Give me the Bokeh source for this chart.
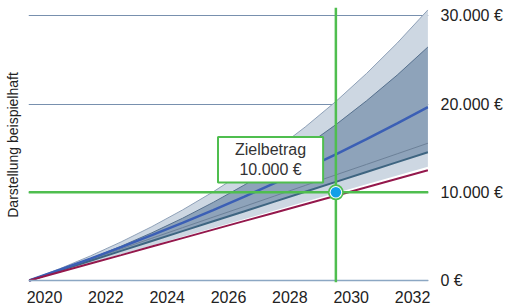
from bokeh.plotting import figure
from bokeh.models import LinearAxis, FixedTicker, Span, Label, Range1d
from bokeh.embed import file_html
from bokeh.resources import INLINE

# ---- data ----
years = [2019.5, 2020.5, 2021.5, 2022.5, 2023.5, 2024.5, 2025.5,
         2026.5, 2027.5, 2028.5, 2029.5, 2030.5, 2031.5, 2032.5]
outer_upper = [0, 1340, 2790, 4380, 6110, 8000, 10060, 12300, 14750, 17410,
               20310, 23480, 26930, 30690]
inner_upper = [0, 1190, 2490, 3890, 5410, 7060, 8860, 10800, 12910, 15200,
               17680, 20380, 23300, 26480]
median = [0, 1220, 2480, 3790, 5140, 6540, 7990, 9490, 11040, 12650,
          14310, 16030, 17810, 19660]
thin_line = [0, 1200, 2400, 3590, 4790, 5990, 7190, 8380, 9580, 10780,
             11980, 13170, 14370, 15570]
inner_lower = [0, 1120, 2240, 3360, 4480, 5600, 6720, 7830, 8950, 10070,
               11190, 12310, 13430, 14550]
outer_lower = [0, 990, 1980, 2980, 3970, 4960, 5950, 6940, 7940, 8930,
               9920, 10910, 11900, 12900]
payments = [0, 960, 1920, 2880, 3850, 4810, 5770, 6730, 7690, 8650,
            9610, 10580, 11540, 12500]

target_year = 2029.5
target_value = 10000
target_title = "Zielbetrag"
target_text = "10.000 €"

x_ticks = [2020, 2022, 2024, 2026, 2028, 2030, 2032]
y_ticks = [0, 10000, 20000, 30000]
y_tick_labels = ["0 €", "10.000 €", "20.000 €", "30.000 €"]
y_axis_title = "Darstellung beispielhaft"

FONT = "Liberation Sans"
GREEN = "#4fbe4f"

p = figure(width=505, height=306, output_backend="svg", toolbar_location=None,
           x_range=Range1d(2019.478, 2032.52), y_range=Range1d(-227, 30963),
           y_axis_location="right",
           min_border_left=28, min_border_right=77, min_border_top=7,
           min_border_bottom=24)
p.outline_line_color = None
p.background_fill_color = "white"
p.xgrid.visible = False

p.xaxis.ticker = FixedTicker(ticks=x_ticks)
p.yaxis.ticker = FixedTicker(ticks=y_ticks)
p.yaxis.major_label_overrides = {t: l for t, l in zip(y_ticks, y_tick_labels)}
for ax in (p.xaxis, p.yaxis):
    ax.axis_line_color = None
    ax.major_tick_line_color = None
    ax.minor_tick_line_color = None
    ax.major_tick_out = 0
    ax.major_tick_in = 0
    ax.major_label_text_font_size = "16px"
    ax.major_label_text_color = "#222222"
    ax.major_label_text_font = FONT
p.xaxis.major_label_standoff = 8
p.yaxis.major_label_standoff = 12

p.ygrid.grid_line_color = "#7890ae"
p.ygrid.grid_line_width = 1

left = LinearAxis(axis_label=y_axis_title, ticker=FixedTicker(ticks=[]),
                  axis_line_color=None, major_tick_line_color=None,
                  minor_tick_line_color=None, major_label_text_font_size="0px",
                  axis_label_text_font_size="14px",
                  axis_label_text_font_style="normal",
                  axis_label_text_font=FONT, axis_label_text_color="#222222",
                  axis_label_standoff=8)
p.add_layout(left, "left")

zero = Span(location=0, dimension="width", line_color="#8ca7c3", line_width=1.5)
p.add_layout(zero)

# bands
p.varea(x=years, y1=outer_lower, y2=outer_upper, fill_color="#cdd7e2")
p.varea(x=years, y1=inner_lower, y2=inner_upper, fill_color="#8ea3ba")

# lines
p.line(years, outer_upper, line_color="#8ea0b7", line_width=1)
p.line(years, inner_upper, line_color="#56708d", line_width=1)
p.line(years, thin_line, line_color="#6c8098", line_width=1)
p.line(years, inner_lower, line_color="#3e6581", line_width=2)
p.line(years, median, line_color="#3b5fb5", line_width=2.5)
p.line(years, payments, line_color="#94184c", line_width=2)

# target lines
p.add_layout(Span(location=target_value, dimension="width",
                  line_color=GREEN, line_width=2.5))
p.add_layout(Span(location=target_year, dimension="height",
                  line_color=GREEN, line_width=2.5))

for size, col in ((16, GREEN), (12.5, "white"), (10.5, "#12a0e8")):
    r = p.scatter([target_year], [target_value], size=size, fill_color=col,
                  line_color=None)
    r.level = "overlay"

lab = Label(x=target_year - 2.13, y=target_value + 1120,
            text=target_title + "\n" + target_text,
            text_align="center", text_baseline="bottom",
            text_font=FONT, text_font_size="16px", text_color="#333333",
            background_fill_color="white", border_line_color=GREEN,
            border_line_width=2,
            padding=dict(left=17, right=17, top=4, bottom=4))
p.add_layout(lab)

open("out.html", "w").write(file_html(p, INLINE))
